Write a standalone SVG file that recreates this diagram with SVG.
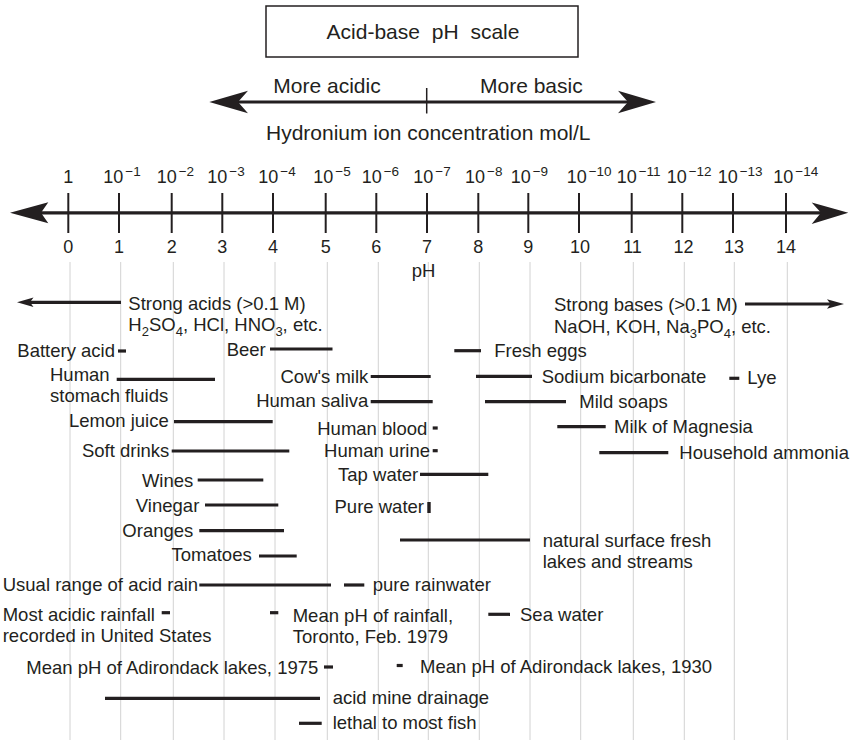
<svg xmlns="http://www.w3.org/2000/svg" width="852" height="740" viewBox="0 0 852 740">
<style>
text{font-family:"Liberation Sans",Arial,Helvetica,sans-serif;fill:#231f20;font-size:18.5px}
.big{font-size:21px}
.ax{font-size:18px}
.sup{font-size:13.5px}
.sub{font-size:13px}
.end{text-anchor:end}
.mid{text-anchor:middle}
.grid line{stroke:#d2d2d2;stroke-width:1}
.bar{stroke:#231f20;stroke-width:3.2;fill:none}
.tick{stroke:#231f20;stroke-width:2}
.head{fill:#231f20}
</style>
<rect width="852" height="740" fill="#ffffff"/>

<g id="grid" class="grid">
<line x1="70" y1="262" x2="70" y2="740"/>
<line x1="120.7" y1="262" x2="120.7" y2="740"/>
<line x1="173.3" y1="262" x2="173.3" y2="740"/>
<line x1="224" y1="262" x2="224" y2="740"/>
<line x1="275" y1="262" x2="275" y2="740"/>
<line x1="327.3" y1="262" x2="327.3" y2="740"/>
<line x1="378.3" y1="262" x2="378.3" y2="740"/>
<line x1="428.3" y1="262" x2="428.3" y2="740"/>
<line x1="479.3" y1="262" x2="479.3" y2="740"/>
<line x1="530" y1="262" x2="530" y2="740"/>
<line x1="580.7" y1="262" x2="580.7" y2="740"/>
<line x1="633.3" y1="262" x2="633.3" y2="740"/>
<line x1="684.3" y1="262" x2="684.3" y2="740"/>
<line x1="734.3" y1="262" x2="734.3" y2="740"/>
<line x1="787.3" y1="262" x2="787.3" y2="740"/>
</g>

<g id="title">
<rect x="266" y="6" width="312" height="51" fill="#ffffff" stroke="#231f20" stroke-width="1.5"/>
<text class="big mid" x="423" y="38.5" style="word-spacing:6px">Acid-base pH scale</text>
</g>

<g id="direction">
<text class="big" x="273.3" y="92.7">More acidic</text>
<text class="big" x="480" y="92.7">More basic</text>
<line x1="235" y1="102" x2="630" y2="102" stroke="#231f20" stroke-width="3"/>
<polygon class="head" points="209.3,102 248,90.7 238,102 248,113.3"/>
<polygon class="head" points="656,102 618,90.7 628,102 618,113.3"/>
<line x1="426.7" y1="88" x2="426.7" y2="113.5" stroke="#231f20" stroke-width="1.5"/>
<text class="big" x="266" y="140">Hydronium ion concentration mol/L</text>
</g>

<g id="axis">
<line x1="35" y1="212.8" x2="825" y2="212.8" stroke="#231f20" stroke-width="3.2"/>
<polygon class="head" points="10,212.8 48.3,202.3 41,212.8 48.3,223.3"/>
<polygon class="head" points="848.3,212.8 811.7,202.5 821,212.8 811.7,224"/>
<g class="tick">
<line x1="68.3" y1="193" x2="68.3" y2="233"/>
<line x1="119" y1="193" x2="119" y2="233"/>
<line x1="171.7" y1="193" x2="171.7" y2="233"/>
<line x1="222.3" y1="193" x2="222.3" y2="233"/>
<line x1="273" y1="193" x2="273" y2="233"/>
<line x1="325.7" y1="193" x2="325.7" y2="233"/>
<line x1="376.3" y1="193" x2="376.3" y2="233"/>
<line x1="427" y1="193" x2="427" y2="233"/>
<line x1="478.3" y1="193" x2="478.3" y2="233"/>
<line x1="528.3" y1="193" x2="528.3" y2="233"/>
<line x1="579" y1="193" x2="579" y2="233"/>
<line x1="631.7" y1="193" x2="631.7" y2="233"/>
<line x1="682.3" y1="193" x2="682.3" y2="233"/>
<line x1="733" y1="193" x2="733" y2="233"/>
<line x1="786" y1="193" x2="786" y2="233"/>
</g>
<g id="conc-labels" class="ax">
<text class="ax mid" x="68.3" y="183.3">1</text>
<text class="ax" x="103.3" y="183.3">10<tspan class="sup" dx="2" dy="-7">−1</tspan></text>
<text class="ax" x="156.7" y="183.3">10<tspan class="sup" dx="2" dy="-7">−2</tspan></text>
<text class="ax" x="207.3" y="183.3">10<tspan class="sup" dx="2" dy="-7">−3</tspan></text>
<text class="ax" x="258.3" y="183.3">10<tspan class="sup" dx="2" dy="-7">−4</tspan></text>
<text class="ax" x="313.3" y="183.3">10<tspan class="sup" dx="2" dy="-7">−5</tspan></text>
<text class="ax" x="361.7" y="183.3">10<tspan class="sup" dx="2" dy="-7">−6</tspan></text>
<text class="ax" x="413.3" y="183.3">10<tspan class="sup" dx="2" dy="-7">−7</tspan></text>
<text class="ax" x="465" y="183.3">10<tspan class="sup" dx="2" dy="-7">−8</tspan></text>
<text class="ax" x="510.7" y="183.3">10<tspan class="sup" dx="2" dy="-7">−9</tspan></text>
<text class="ax" x="566.7" y="183.3">10<tspan class="sup" dx="2" dy="-7">−10</tspan></text>
<text class="ax" x="616.7" y="183.3">10<tspan class="sup" dx="2" dy="-7">−11</tspan></text>
<text class="ax" x="666.7" y="183.3">10<tspan class="sup" dx="2" dy="-7">−12</tspan></text>
<text class="ax" x="717.7" y="183.3">10<tspan class="sup" dx="2" dy="-7">−13</tspan></text>
<text class="ax" x="773.3" y="183.3">10<tspan class="sup" dx="2" dy="-7">−14</tspan></text>
</g>
<g id="ph-labels">
<text class="ax mid" x="68.3" y="253">0</text>
<text class="ax mid" x="119" y="253">1</text>
<text class="ax mid" x="171.7" y="253">2</text>
<text class="ax mid" x="222.3" y="253">3</text>
<text class="ax mid" x="273" y="253">4</text>
<text class="ax mid" x="325.7" y="253">5</text>
<text class="ax mid" x="376.3" y="253">6</text>
<text class="ax mid" x="427" y="253">7</text>
<text class="ax mid" x="478.3" y="253">8</text>
<text class="ax mid" x="528.3" y="253">9</text>
<text class="ax mid" x="580" y="253">10</text>
<text class="ax mid" x="632.5" y="253">11</text>
<text class="ax mid" x="683.5" y="253">12</text>
<text class="ax mid" x="734" y="253">13</text>
<text class="ax mid" x="786" y="253">14</text>
<text x="411.7" y="277">pH</text>
</g>
</g>

<g id="connectors">
<line class="bar" x1="26" y1="302.3" x2="121" y2="302.3"/>
<polygon class="head" points="17,302.3 33.5,297.5 30,302.3 33.5,307"/>
<line class="bar" x1="745" y1="304" x2="834" y2="304"/>
<polygon class="head" points="844,304 827,299.3 830.5,304 827,308.7"/>
</g>

<g id="strong-acids">
<text x="128.3" y="309.5">Strong acids (&gt;0.1 M)</text>
<text x="128.3" y="331">H<tspan class="sub" dy="4.5">2</tspan><tspan dy="-4.5">SO</tspan><tspan class="sub" dy="4.5">4</tspan><tspan dy="-4.5">, HCl, HNO</tspan><tspan class="sub" dy="4.5">3</tspan><tspan dy="-4.5">, etc.</tspan></text>
</g>
<g id="strong-bases">
<text x="554" y="311">Strong bases (&gt;0.1 M)</text>
<text x="554" y="333">NaOH, KOH, Na<tspan class="sub" dy="4.5">3</tspan><tspan dy="-4.5">PO</tspan><tspan class="sub" dy="4.5">4</tspan><tspan dy="-4.5">, etc.</tspan></text>
</g>

<g id="battery-acid"><text class="end" x="115" y="357">Battery acid</text><line class="bar" x1="118" y1="351" x2="126" y2="351"/></g>
<g id="beer"><text x="226.7" y="356">Beer</text><line class="bar" x1="270" y1="349" x2="332.5" y2="349"/></g>
<g id="stomach"><text x="50" y="380.5">Human</text><text x="50" y="402">stomach fluids</text><line class="bar" x1="116.7" y1="379.3" x2="215" y2="379.3"/></g>
<g id="cows-milk"><text class="end" x="368.3" y="383">Cow's milk</text><line class="bar" x1="370.7" y1="376.5" x2="430.7" y2="376.5"/></g>
<g id="saliva"><text class="end" x="368.3" y="407">Human saliva</text><line class="bar" x1="370.7" y1="401.7" x2="432.7" y2="401.7"/></g>
<g id="lemon"><text x="69" y="427">Lemon juice</text><line class="bar" x1="174" y1="421.7" x2="272.7" y2="421.7"/></g>
<g id="blood"><text class="end" x="427.3" y="435">Human blood</text><line class="bar" x1="432.7" y1="428" x2="437.7" y2="428"/></g>
<g id="soft-drinks"><text class="end" x="169.3" y="457">Soft drinks</text><line class="bar" x1="171.7" y1="451" x2="289.3" y2="451"/></g>
<g id="urine"><text class="end" x="430" y="457">Human urine</text><line class="bar" x1="432.7" y1="450.7" x2="437.7" y2="450.7"/></g>
<g id="tap-water"><text class="end" x="418.3" y="480.5">Tap water</text><line class="bar" x1="420" y1="474.3" x2="488.3" y2="474.3"/></g>

<g id="fresh-eggs"><line class="bar" x1="454.3" y1="350.7" x2="481" y2="350.7"/><text x="494.3" y="357.3">Fresh eggs</text></g>
<g id="bicarbonate"><line class="bar" x1="476" y1="376.3" x2="532" y2="376.3"/><text x="541.7" y="383">Sodium bicarbonate</text></g>
<g id="lye"><line class="bar" x1="729.3" y1="378.3" x2="739.3" y2="378.3"/><text x="747.3" y="384">Lye</text></g>
<g id="mild-soaps"><line class="bar" x1="485" y1="401.7" x2="566" y2="401.7"/><text x="579.3" y="408.3">Mild soaps</text></g>
<g id="magnesia"><line class="bar" x1="557.3" y1="426.7" x2="605.7" y2="426.7"/><text x="614" y="433">Milk of Magnesia</text></g>
<g id="ammonia"><line class="bar" x1="599.3" y1="452.7" x2="668.3" y2="452.7"/><text x="679.3" y="459">Household ammonia</text></g>

<g id="wines"><text class="end" x="193.3" y="486.5">Wines</text><line class="bar" x1="197.7" y1="480" x2="263.3" y2="480"/></g>
<g id="vinegar"><text class="end" x="199.3" y="511.5">Vinegar</text><line class="bar" x1="205" y1="505" x2="278.3" y2="505"/></g>
<g id="oranges"><text class="end" x="193.3" y="537">Oranges</text><line class="bar" x1="199.3" y1="530.7" x2="284" y2="530.7"/></g>
<g id="tomatoes"><text class="end" x="251.7" y="561">Tomatoes</text><line class="bar" x1="259" y1="556" x2="296.7" y2="556"/></g>
<g id="pure-water"><text class="end" x="424" y="513">Pure water</text><rect x="427.3" y="502" width="3.4" height="11" fill="#231f20"/></g>
<g id="fresh-lakes"><line class="bar" x1="400" y1="540" x2="530" y2="540"/><text x="542.7" y="546.5">natural surface fresh</text><text x="542.7" y="568">lakes and streams</text></g>
<g id="acid-rain"><text x="2.7" y="591">Usual range of acid rain</text><line class="bar" x1="199.3" y1="585" x2="331" y2="585"/></g>
<g id="pure-rainwater"><line class="bar" x1="344" y1="585" x2="364.3" y2="585"/><text x="372.7" y="591">pure rainwater</text></g>
<g id="acidic-rainfall"><text x="2.7" y="620.5">Most acidic rainfall</text><text x="2.7" y="641.5">recorded in United States</text><line class="bar" x1="161.7" y1="612.7" x2="170" y2="612.7"/></g>
<g id="toronto"><line class="bar" x1="270" y1="612.7" x2="278.3" y2="612.7"/><text x="292.7" y="621.5">Mean pH of rainfall,</text><text x="292.7" y="643.3">Toronto, Feb. 1979</text></g>
<g id="sea-water"><line class="bar" x1="488.3" y1="614.3" x2="510" y2="614.3"/><text x="520" y="620.5">Sea water</text></g>
<g id="adirondack-1975"><text class="end" x="318.3" y="673.5">Mean pH of Adirondack lakes, 1975</text><line class="bar" x1="324" y1="667" x2="333" y2="667"/></g>
<g id="adirondack-1930"><line class="bar" x1="396.7" y1="665.5" x2="402.7" y2="665.5"/><text x="420" y="672.5">Mean pH of Adirondack lakes, 1930</text></g>
<g id="mine-drainage"><line class="bar" x1="105" y1="698.3" x2="320" y2="698.3"/><text x="332.7" y="703.5">acid mine drainage</text></g>
<g id="lethal"><line class="bar" x1="299" y1="723.3" x2="321.7" y2="723.3"/><text x="332.7" y="729">lethal to most fish</text></g>
</svg>
